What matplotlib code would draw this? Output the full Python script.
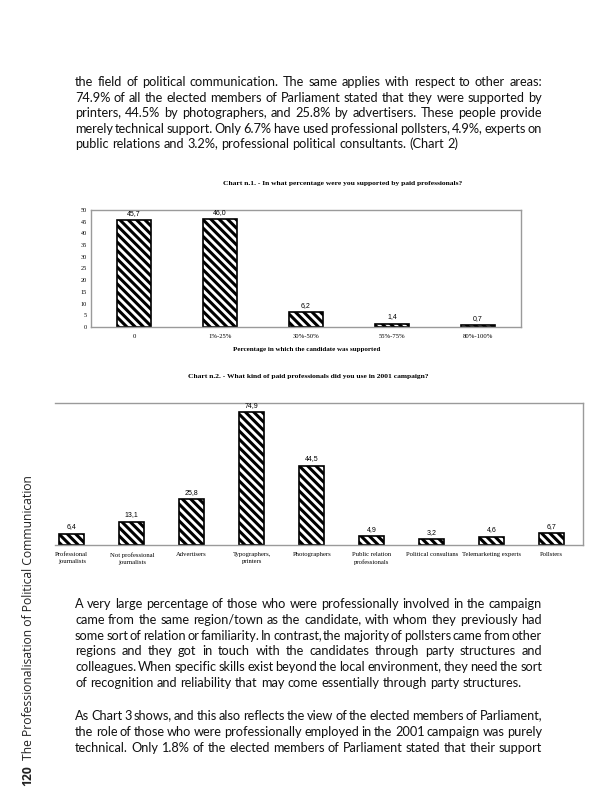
import numpy as np
import matplotlib.pyplot as plt
from matplotlib.font_manager import FontProperties

W, H = 606, 800

# Chart n.1 data
c1_labels = ['0', '1%-25%', '30%-50%', '55%-75%', '80%-100%']
c1_values = [45.7, 46.0, 6.2, 1.4, 0.7]
c1_ticks = list(range(0, 51, 5))

# Chart n.2 data
c2_labels = ['Professional\njournalists', 'Not professional\njournalists', 'Advertisers',
             'Typographers,\nprinters', 'Photographers', 'Public relation\nprofessionals',
             'Political consultans', 'Telemarketing experts', 'Pollsters']
c2_values = [6.4, 13.1, 25.8, 74.9, 44.5, 4.9, 3.2, 4.6, 6.7]

para1 = [
    "the field of political communication. The same applies with respect to other areas:",
    "74.9% of all the elected members of Parliament stated that they were supported by",
    "printers, 44.5% by photographers, and 25.8% by advertisers. These people provide",
    "merely technical support. Only 6.7% have used professional pollsters, 4.9%, experts on",
    "public relations and 3.2%, professional political consultants. (Chart 2)",
]
para2 = [
    "A very large percentage of those who were professionally involved in the campaign",
    "came from the same region/town as the candidate, with whom they previously had",
    "some sort of relation or familiarity. In contrast, the majority of pollsters came from other",
    "regions and they got in touch with the candidates through party structures and",
    "colleagues. When specific skills exist beyond the local environment, they need the sort",
    "of recognition and reliability that may come essentially through party structures.",
]
para3 = [
    "As Chart 3 shows, and this also reflects the view of the elected members of Parliament,",
    "the role of those who were professionally employed in the 2001 campaign was purely",
    "technical. Only 1.8% of the elected members of Parliament stated that their support",
]

plt.rcParams['hatch.linewidth'] = 2.2
fig = plt.figure(figsize=(W / 100, H / 100), dpi=100)
renderer = fig.canvas.get_renderer()

BODY_FP = FontProperties(family='Lato', size=9.2)
SERIF = 'Liberation Serif'
SANS = 'Liberation Sans'
GRAY = '#9a9a9a'
HATCH = '\\\\\\\\'
TEXT_L, TEXT_R = 75, 542


def px(x, y):
    return x / W, 1 - y / H


def metrics(s):
    return renderer.get_text_width_height_descent(s, BODY_FP, ismath=False)


SPACE = metrics('x x')[0] - metrics('xx')[0]


def put_line(line, y, justify):
    words = line.split(' ')
    mets = [metrics(w) for w in words]
    widths = [m[0] for m in mets]
    gap = (TEXT_R - TEXT_L - sum(widths)) / (len(words) - 1) if justify else SPACE
    base = round(y)
    x = TEXT_L
    for word, (wd, h, d) in zip(words, mets):
        # keep every word on the same pixel baseline whatever its descent
        yw = base - d + np.floor(h) - np.floor(h - d)
        fig.text(*px(x, yw), word, va='baseline', fontproperties=BODY_FP,
                 color='#111111')
        x += wd + gap


def put_paragraph(lines, y0, step, last_justified=False):
    for i, line in enumerate(lines):
        last = i == len(lines) - 1
        put_line(line, y0 + i * step, (not last) or last_justified)


put_paragraph(para1, 86, 15.6)
put_paragraph(para2, 608, 15.8)
put_paragraph(para3, 720, 15.8, last_justified=True)

# ----------------------------------------------------------------------
# Chart n.1
ax1 = fig.add_axes([91 / W, 1 - 327 / H, 430 / W, 117 / H])
x1 = np.arange(len(c1_labels))
ax1.bar(x1, c1_values, width=0.4, color='white', edgecolor='black',
        hatch=HATCH, linewidth=1.2)
for x, v in zip(x1, c1_values):
    ax1.annotate(f'{v:.1f}'.replace('.', ','), (x, v), xytext=(0, 2.5),
                 textcoords='offset points', ha='center', va='bottom',
                 fontsize=5, family=SANS)
ax1.set_xlim(-0.5, 4.5)
ax1.set_ylim(0, 50)
ax1.set_yticks(c1_ticks)
ax1.set_xticks(x1)
ax1.set_xticklabels(c1_labels, family=SERIF, fontsize=4.8)
ax1.set_yticklabels([str(t) for t in c1_ticks], family=SERIF, fontsize=4.5)
ax1.tick_params(axis='both', length=0)
ax1.tick_params(axis='x', pad=5)
ax1.tick_params(axis='y', pad=3)
for s in ax1.spines.values():
    s.set_color(GRAY)
    s.set_linewidth(1.0)

fig.text(*px(343, 183), 'Chart n.1. - In what percentage were you supported by paid professionals?',
         ha='center', va='center', family=SERIF, fontweight='bold', fontsize=5.4)
fig.text(*px(307, 349), 'Percentage in which the candidate was supported',
         ha='center', va='center', family=SERIF, fontweight='bold', fontsize=5.0)

# ----------------------------------------------------------------------
# Chart n.2
ax2 = fig.add_axes([55 / W, 1 - 545 / H, 528 / W, 142 / H])
x2 = np.arange(len(c2_labels))
ax2.bar(x2, c2_values, width=0.42, color='white', edgecolor='black',
        hatch=HATCH, linewidth=1.2)
for x, v in zip(x2, c2_values):
    ax2.annotate(f'{v:.1f}'.replace('.', ','), (x, v), xytext=(0, 2.5),
                 textcoords='offset points', ha='center', va='bottom',
                 fontsize=5, family=SANS)
ax2.set_xlim(-0.28, 8.52)
ax2.set_ylim(0, 80)
ax2.set_yticks([])
ax2.set_xticks(x2)
ax2.set_xticklabels(c2_labels, family=SERIF, fontsize=4.8, linespacing=1.5, va='top')
ax2.tick_params(axis='x', length=0, pad=5)
ax2.spines['left'].set_visible(False)
for k in ['top', 'right', 'bottom']:
    ax2.spines[k].set_color(GRAY)
    ax2.spines[k].set_linewidth(1.0)

fig.text(*px(308, 377), 'Chart n.2. - What kind of paid professionals did you use in 2001 campaign?',
         ha='center', va='center', family=SERIF, fontweight='bold', fontsize=5.4)

# ----------------------------------------------------------------------
# running head on the left margin
SIDE = dict(family='Open Sans', fontsize=8.7, color='#222222', rotation=90,
            rotation_mode='anchor', ha='left', va='center')
t = fig.text(*px(28, 786), '120', fontweight='bold', **SIDE)
w = t.get_window_extent(renderer).height
fig.text(*px(28, 786 - w - 5), 'The Professionalisation of Political Communication', **SIDE)

fig.savefig('out.png', dpi=100)
